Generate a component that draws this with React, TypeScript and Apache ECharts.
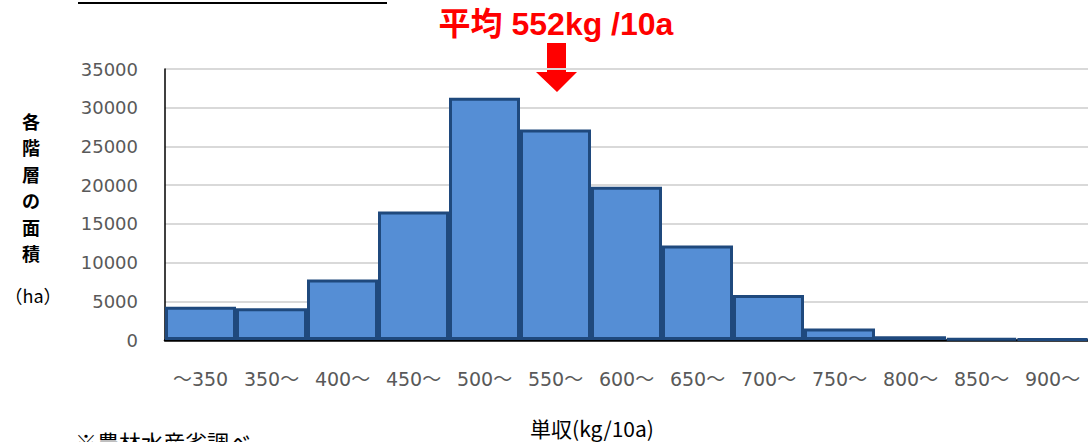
import React, { useEffect, useRef } from "react";
import * as echarts from "echarts";

const categories = ["～350", "350～", "400～", "450～", "500～", "550～", "600～", "650～", "700～", "750～", "800～", "850～", "900～"];
const areaValues = [4300, 4100, 7800, 16600, 31300, 27200, 19800, 12200, 5800, 1500, 500, 200, 100];
const yTicks = { min: 0, max: 35000, interval: 5000 };
const titleText = "平均 552kg /10a";
const yNameChars = ["各", "階", "層", "の", "面", "積"];
const yUnit = "（ha）";
const xName = "単収(kg/10a)";
const sourceNote = "※農林水産省調べ";

export default function App() {
  const ref = useRef<HTMLDivElement>(null);
  useEffect(() => {
    if (!ref.current) return;
    const chart = echarts.init(ref.current, undefined, { renderer: "svg" });
    const labelFont = "'DejaVu Sans', 'Noto Sans CJK JP', sans-serif";
    chart.setOption({
      animation: false,
      backgroundColor: "#ffffff",
      grid: { left: 165, right: -3, top: 69, bottom: 102, containLabel: false },
      xAxis: {
        type: "category",
        data: categories,
        axisLine: { show: true, lineStyle: { color: "#000000", width: 2.5 } },
        axisTick: { show: false },
        axisLabel: { color: "#595959", fontSize: 19, fontFamily: labelFont, margin: 29, interval: 0 },
      },
      yAxis: {
        type: "value",
        min: yTicks.min,
        max: yTicks.max,
        interval: yTicks.interval,
        axisLine: { show: true, lineStyle: { color: "#000000", width: 1.5 } },
        axisTick: { show: false },
        axisLabel: { color: "#595959", fontSize: 18, fontFamily: labelFont, margin: 27, formatter: (v: number) => String(v) },
        splitLine: { show: true, lineStyle: { color: "#d9d9d9", width: 2 } },
      },
      series: [
        {
          type: "bar",
          data: areaValues,
          barCategoryGap: "0%",
          itemStyle: { color: "#558ed5", borderColor: "#1f497d", borderWidth: 3 },
        },
      ],
      graphic: [
        { type: "line", shape: { x1: 78, y1: 3, x2: 387, y2: 3 }, style: { stroke: "#000", lineWidth: 2 } },
        {
          type: "text",
          x: 556,
          y: 24,
          style: {
            text: titleText,
            fill: "#ff0000",
            font: "bold 32px 'Liberation Sans', 'Noto Sans CJK JP', sans-serif",
            textAlign: "center",
            textVerticalAlign: "middle",
          },
        },
        {
          type: "polygon",
          shape: {
            points: [
              [547, 43], [566, 43], [566, 72], [577, 72], [557, 92], [536, 72], [547, 72],
            ],
          },
          style: { fill: "#ff0000" },
        },
        ...yNameChars.map((c, i) => ({
          type: "text",
          x: 31,
          y: 121 + i * 26.4,
          style: {
            text: c,
            fill: "#000",
            font: "bold 18px 'Noto Sans CJK JP', sans-serif",
            textAlign: "center",
            textVerticalAlign: "middle",
          },
        })),
        {
          type: "text",
          x: 33,
          y: 295,
          style: { text: yUnit, fill: "#000", font: "18px 'Noto Sans CJK JP', sans-serif", textAlign: "center", textVerticalAlign: "middle" },
        },
        {
          type: "text",
          x: 592,
          y: 428,
          style: { text: xName, fill: "#000", font: "21px 'Noto Sans CJK JP', sans-serif", textAlign: "center", textVerticalAlign: "middle" },
        },
        {
          type: "text",
          x: 75,
          y: 441,
          style: { text: sourceNote, fill: "#000", font: "22px 'Noto Sans CJK JP', sans-serif", textAlign: "left", textVerticalAlign: "middle" },
        },
      ],
    });
    return () => chart.dispose();
  }, []);
  return (
    <div style={{ position: "fixed", left: 0, top: 0, width: 1088, height: 442, overflow: "hidden", background: "#fff" }}>
      <div ref={ref} style={{ width: 1088, height: 442 }} />
    </div>
  );
}
